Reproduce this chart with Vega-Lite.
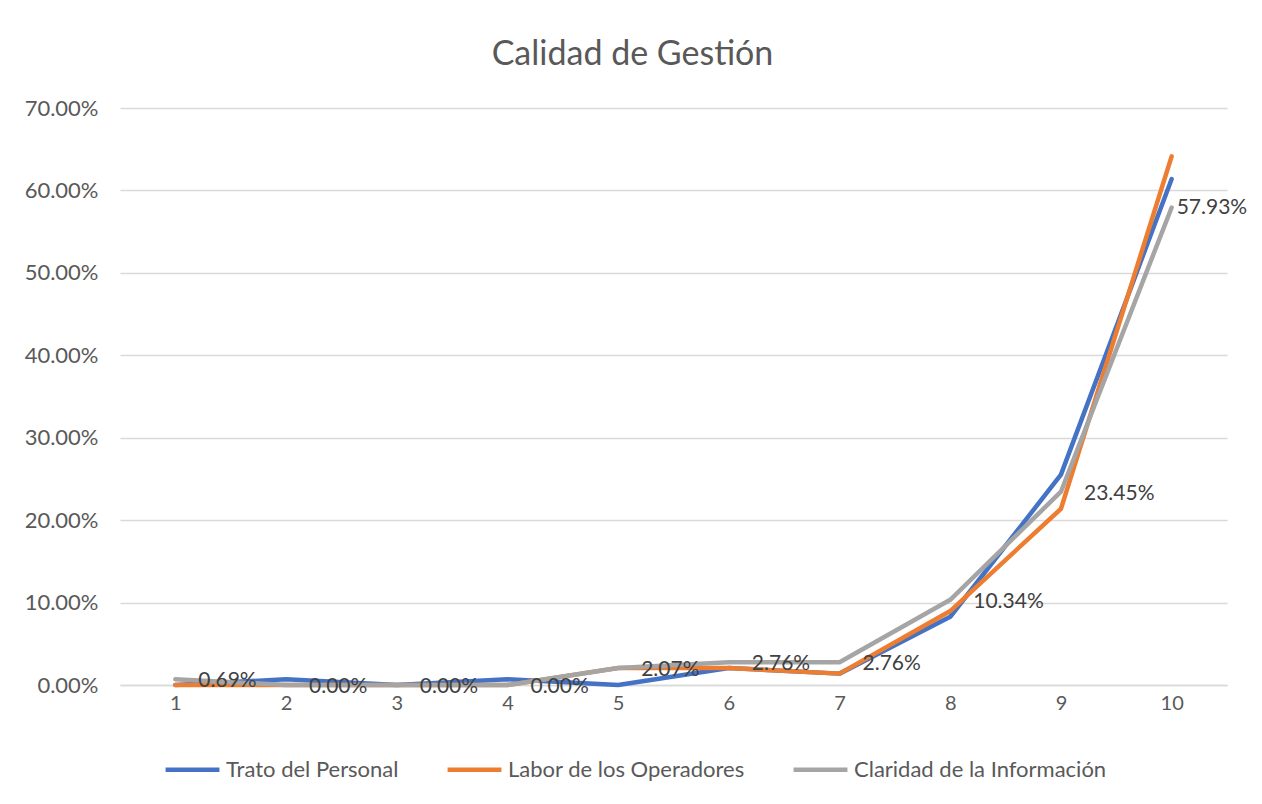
{
  "$schema": "https://vega.github.io/schema/vega-lite/v6.json",
  "width": 1107,
  "height": 577,
  "autosize": {"type": "none"},
  "padding": {"left": 120, "top": 108, "right": 35, "bottom": 119},
  "background": "white",
  "title": {"text": "Calidad de Gestión", "fontSize": 34, "font": "Lato", "fontWeight": "normal", "color": "#595959", "anchor": "middle", "frame": "group", "dx": -41, "offset": 25},
  "data": {"values": [
    {"p": 1, "s": "Trato del Personal", "v": 0},
    {"p": 2, "s": "Trato del Personal", "v": 0.0069},
    {"p": 3, "s": "Trato del Personal", "v": 0},
    {"p": 4, "s": "Trato del Personal", "v": 0.0069},
    {"p": 5, "s": "Trato del Personal", "v": 0},
    {"p": 6, "s": "Trato del Personal", "v": 0.0207},
    {"p": 7, "s": "Trato del Personal", "v": 0.0138},
    {"p": 8, "s": "Trato del Personal", "v": 0.0828},
    {"p": 9, "s": "Trato del Personal", "v": 0.2552},
    {"p": 10, "s": "Trato del Personal", "v": 0.6138},
    {"p": 1, "s": "Labor de los Operadores", "v": 0},
    {"p": 2, "s": "Labor de los Operadores", "v": 0},
    {"p": 3, "s": "Labor de los Operadores", "v": 0},
    {"p": 4, "s": "Labor de los Operadores", "v": 0},
    {"p": 5, "s": "Labor de los Operadores", "v": 0.0207},
    {"p": 6, "s": "Labor de los Operadores", "v": 0.0207},
    {"p": 7, "s": "Labor de los Operadores", "v": 0.0138},
    {"p": 8, "s": "Labor de los Operadores", "v": 0.0897},
    {"p": 9, "s": "Labor de los Operadores", "v": 0.2138},
    {"p": 10, "s": "Labor de los Operadores", "v": 0.6414},
    {"p": 1, "s": "Claridad de la Información", "v": 0.0069},
    {"p": 2, "s": "Claridad de la Información", "v": 0},
    {"p": 3, "s": "Claridad de la Información", "v": 0},
    {"p": 4, "s": "Claridad de la Información", "v": 0},
    {"p": 5, "s": "Claridad de la Información", "v": 0.0207},
    {"p": 6, "s": "Claridad de la Información", "v": 0.0276},
    {"p": 7, "s": "Claridad de la Información", "v": 0.0276},
    {"p": 8, "s": "Claridad de la Información", "v": 0.1034},
    {"p": 9, "s": "Claridad de la Información", "v": 0.2345},
    {"p": 10, "s": "Claridad de la Información", "v": 0.5793}
  ]},
  "encoding": {
    "x": {"field": "p", "type": "ordinal", "scale": {"type": "point", "padding": 0.5},
      "axis": {"title": null, "labelAngle": 0, "labelFont": "Lato", "labelFontSize": 20, "labelColor": "#595959", "ticks": false, "domainColor": "#d9d9d9", "domainWidth": 1.5, "labelPadding": 8, "grid": false}},
    "y": {"field": "v", "type": "quantitative", "scale": {"domain": [0, 0.7], "nice": false},
      "axis": {"title": null, "format": ".2%", "values": [0, 0.1, 0.2, 0.3, 0.4, 0.5, 0.6, 0.7], "labelOverlap": false, "labelFlush": false, "labelFont": "Lato", "labelFontSize": 22, "labelColor": "#595959", "ticks": false, "domain": false, "gridColor": "#d9d9d9", "gridWidth": 1.5, "labelPadding": 22}}
  },
  "layer": [
    {
      "mark": {"type": "line", "strokeWidth": 4.5, "strokeCap": "round", "strokeJoin": "round"},
      "encoding": {
        "color": {"field": "s", "type": "nominal", "sort": null,
          "scale": {"domain": ["Trato del Personal", "Labor de los Operadores", "Claridad de la Información"], "range": ["#4472C4", "#ED7D31", "#A5A5A5"]},
          "legend": {"title": null, "orient": "none", "legendX": 43, "legendY": 632, "direction": "horizontal", "symbolType": "stroke", "symbolSize": 2900, "symbolStrokeWidth": 4.5, "labelFont": "Lato", "labelFontSize": 22, "labelColor": "#595959", "labelLimit": 500, "columnPadding": 39, "labelOffset": 4}
        }
      }
    },
    {
      "transform": [{"filter": "datum.s === 'Claridad de la Información' && datum.p < 10"}],
      "mark": {"type": "text", "align": "left", "baseline": "middle", "dx": 23, "dy": 2, "font": "Lato", "fontSize": 21, "color": "#404040"},
      "encoding": {"text": {"field": "v", "format": ".2%"}}
    },
    {
      "transform": [{"filter": "datum.s === 'Claridad de la Información' && datum.p == 10"}],
      "mark": {"type": "text", "align": "left", "baseline": "middle", "dx": 5, "dy": 1, "font": "Lato", "fontSize": 21, "color": "#404040"},
      "encoding": {"text": {"field": "v", "format": ".2%"}}
    }
  ],
  "config": {"view": {"stroke": null}}
}
